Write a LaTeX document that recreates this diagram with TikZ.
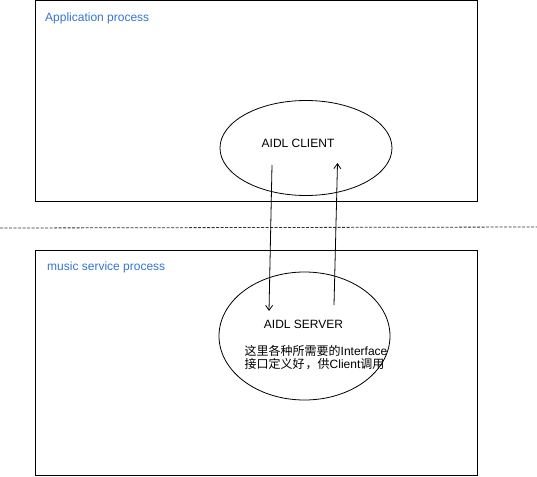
\documentclass[tikz,border=0pt]{standalone}
\usepackage{fontspec}
\setmainfont{Liberation Sans}
\newfontfamily\cjk{Noto Sans CJK SC}
\usetikzlibrary{shapes.geometric,arrows.meta}
\definecolor{labelblue}{RGB}{52,116,214}
\begin{document}
\begin{tikzpicture}[x=1pt,y=-1pt,
  procbox/.style={draw=black,line width=1pt},
  bubble/.style={draw=black,line width=0.8pt,ellipse,inner sep=0pt},
  proclabel/.style={anchor=west,text=labelblue,font=\fontsize{12}{14}\selectfont,inner sep=0pt},
  bodytext/.style={font=\fontsize{12}{14}\selectfont,inner sep=0pt},
  flow/.style={draw=black,line width=0.8pt,-{Straight Barb[length=5pt,width=7pt]}}]
\useasboundingbox (0,0) rectangle (537,476);
% process boxes
\draw[procbox] (35.5,0.5) rectangle (477,201);
\draw[procbox] (35.5,250.5) rectangle (477,475);
\node[proclabel] (applbl) at (45,18.5) {Application process};
\node[proclabel] (muslbl) at (47,267.5) {music service process};
% separator
\coordinate (sepL) at (0,228);
\coordinate (sepR) at (537,227);
\draw[black!80,line width=0.8pt,dash pattern=on 3pt off 1.5pt] (sepL) -- (sepR);
% ellipses
\node[bubble,minimum width=172pt,minimum height=95pt] (client) at (306,148) {};
\node[bubble,minimum width=171pt,minimum height=128pt] (server) at (304.5,336) {};
\node[bodytext] (clienttxt) at (298,143) {AIDL CLIENT};
\node[bodytext] (servertxt) at (303.5,324.5) {AIDL SERVER};
\node[bodytext,anchor=west] (desc1) at (244.5,350.5) {{\cjk 这里各种所需要的}Interface};
\node[bodytext,anchor=west] (desc2) at (244.5,364) {{\cjk 接口定义好\hspace{1pt}，供}Client{\cjk 调用}};
% arrows
\coordinate (d1) at (272,165);
\coordinate (d2) at (269,311);
\coordinate (u1) at (334,305);
\coordinate (u2) at (337.5,163);
\draw[flow] (d1) -- (d2);
\draw[flow] (u1) -- (u2);
\end{tikzpicture}
\end{document}
